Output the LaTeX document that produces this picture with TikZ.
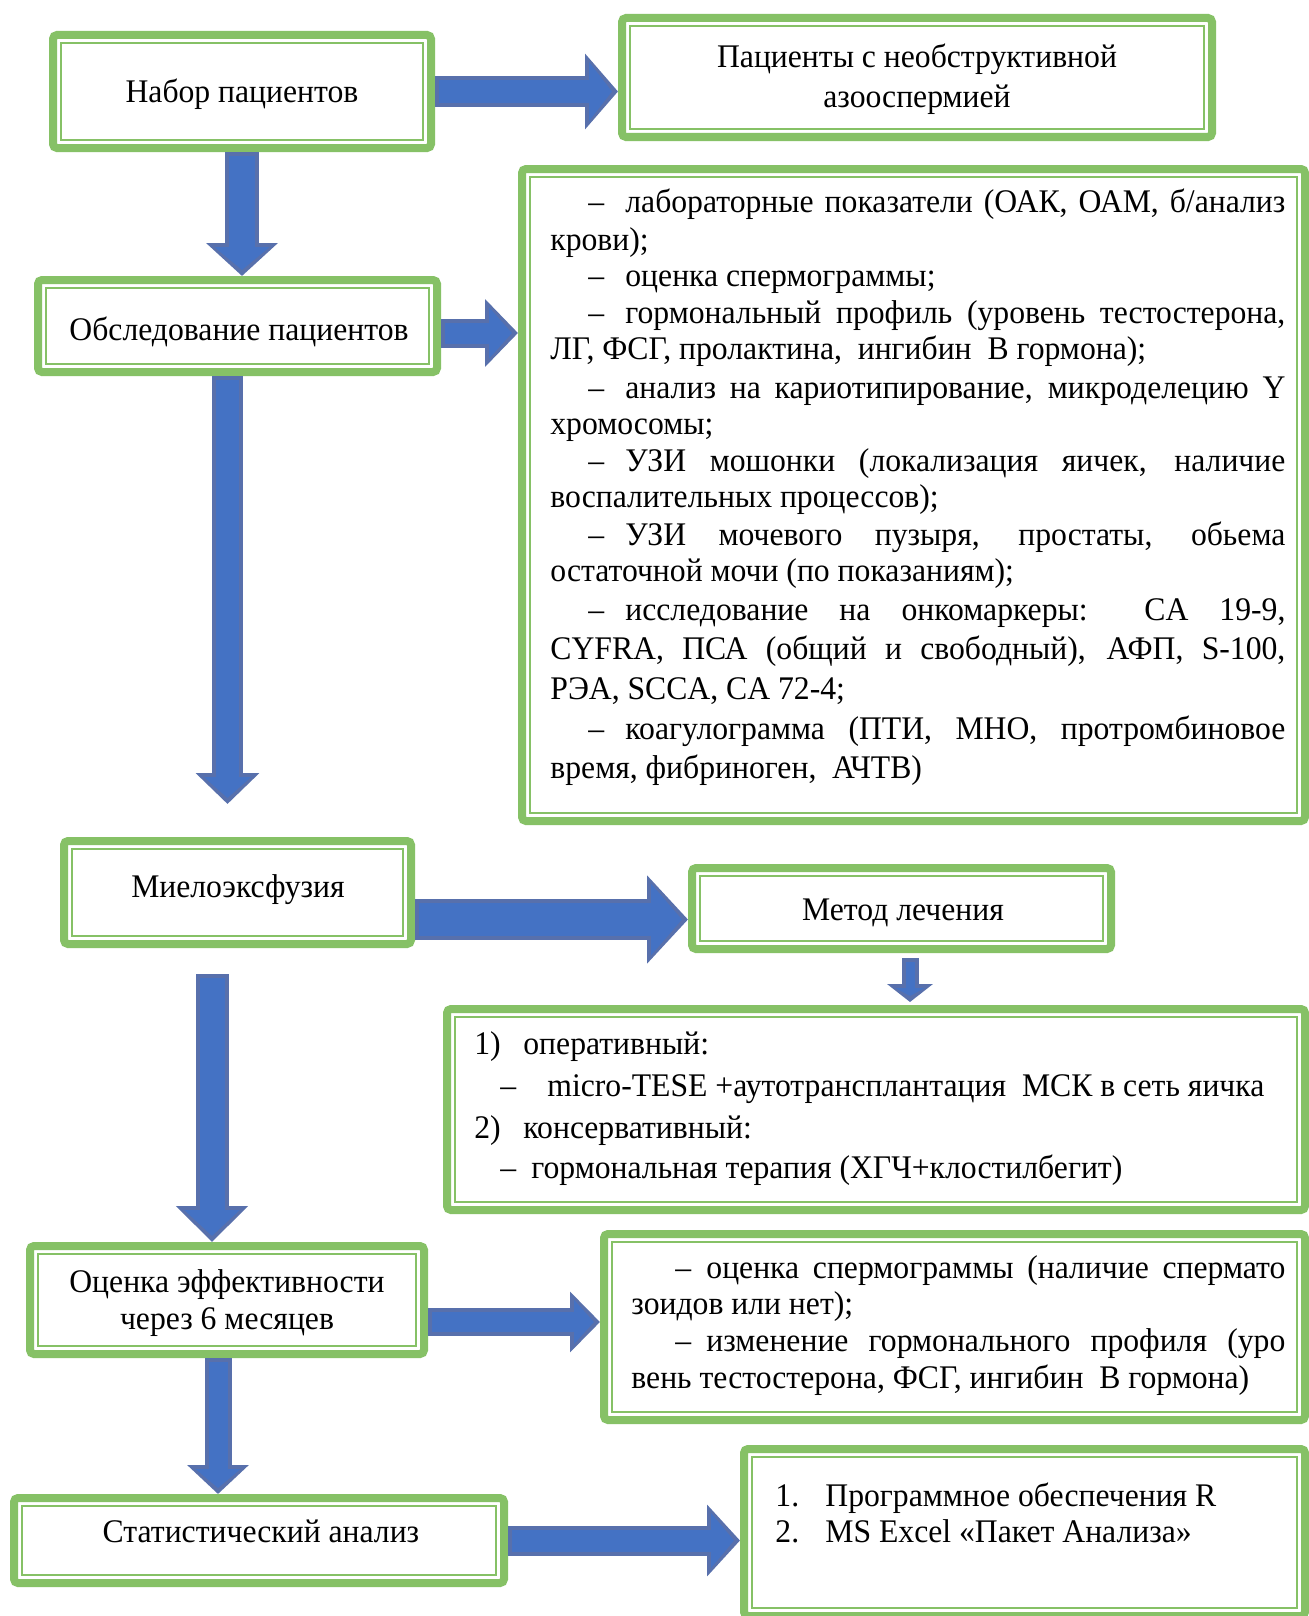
\documentclass[tikz,border=0pt]{standalone}
\usepackage{fontspec}
\setmainfont{Liberation Serif}[FakeStretch=0.96]
\usetikzlibrary{arrows.meta,calc}
\definecolor{boxgreen}{HTML}{86C166}
\definecolor{arrowedge}{HTML}{5870AC}
\definecolor{arrowfill}{HTML}{4472C4}
\tikzset{
 box/.style={draw=boxgreen, line width=4pt, rounded corners=2pt, fill=white, inner sep=0pt},
 thinline/.style={draw=boxgreen, line width=1.25pt},
 txt/.style={inner sep=0pt, anchor=base west, font=\fontsize{16.5pt}{18.5pt}\selectfont},
 ctxt/.style={txt, anchor=base},
}
\newcommand\mkbox[5]{%
 \node[box, minimum width={(#4-#2-8)*0.5pt}, minimum height={(#5-#3-8)*0.5pt}] (#1) at ({(#2+#4)/2},{(#3+#5)/2}) {};}
\newcommand\barrow[5]{%
 \pgfmathsetmacro\bsw{#3*0.5}\pgfmathsetmacro\bhw{#4*0.5}\pgfmathsetmacro\bhl{#5*0.5}%
 \pgfmathsetmacro\isw{#3*0.5-4}\pgfmathsetmacro\ihw{#4*0.5-8}\pgfmathsetmacro\ihl{#5*0.5-5}%
 \draw[arrowedge, line width=\bsw pt, -{Triangle[length=\bhl pt, width=\bhw pt]}] #1 -- #2;
 \draw[arrowfill, line width=\isw pt, shorten >=3pt, shorten <=2pt, -{Triangle[length=\ihl pt, width=\ihw pt]}] #1 -- #2;
}
\begin{document}
\begin{tikzpicture}[x=0.5pt,y=-0.5pt]
\useasboundingbox[fill=white] (0,0) rectangle (1309,1616);
% boxes
\mkbox{b1}{49}{31}{435}{152}
\mkbox{b2}{618}{14}{1216}{141}
\mkbox{b3}{34}{276}{441}{376}
\mkbox{b4}{518}{165}{1309}{825}
\mkbox{b5}{60}{837}{415}{948}
\mkbox{b6}{688}{864}{1115}{953}
\mkbox{b7}{443}{1005}{1309}{1214}
\mkbox{b8}{26}{1242}{428}{1358}
\mkbox{b9}{600}{1230}{1309}{1424}
\mkbox{b10}{10}{1494}{508}{1587}
\mkbox{b11}{740}{1445}{1309}{1620}
\foreach \n in {b1,b2,b3,b4,b5,b6,b7,b8,b9,b10,b11}
 \draw[thinline] ([xshift=6pt,yshift=6pt]\n.south west) rectangle ([xshift=-6pt,yshift=-6pt]\n.north east);
% connectors
\barrow{(b1.east)}{(b1.east -| b2.west)}{31}{74}{33}
\barrow{(b1.south)}{(b1.south |- b3.north)}{34}{70}{33}
\barrow{($(b3.east)+(0,7)$)}{($(b3.east -| b4.west)+(0,7)$)}{29}{66}{33}
\coordinate (e4) at ($(b3.south)+(-10,428)$);
\barrow{(e4 |- b3.south)}{(e4)}{31}{62}{31}
\barrow{($(b5.east)+(0,27)$)}{($(b5.east -| b6.west)+(0,27)$)}{41}{86}{41}
\coordinate (s6) at ($(b6.south)+(8.5,5)$);
\coordinate (e6) at ($(b7.north -| s6)+(0,-3)$);
\barrow{(s6)}{(e6)}{17}{45}{18}
\coordinate (s7) at ($(b5.south)+(-25.5,26)$);
\barrow{(s7)}{(s7 |- b8.north)}{33}{70}{36}
\barrow{($(b8.east)+(0,22)$)}{($(b8.east -| b9.west)+(0,22)$)}{28}{59}{30}
\coordinate (s9) at ($(b8.south)+(-9,0)$);
\barrow{(s9)}{(s9 |- b10.north)}{27}{60}{29}
\barrow{(b10.east)}{(b10.east -| b11.west)}{30}{70}{33}
% texts
\node[ctxt] (t1) at (242,103) {Набор пациентов};
\node[ctxt] (t2a) at (917,68) {Пациенты с необструктивной};
\node[ctxt] (t2b) at (917,108) {азооспермией};
\node[ctxt] (t3) at (239,340) {Обследование пациентов};
% box 4
\node[txt] (d4a) at (588,212) {–};
\node[txt] (t4a) at (625,212) {\makebox[330pt][s]{лабораторные показатели (ОАК, ОАМ, б/анализ}};
\node[txt] (t4b) at (550,250) {крови);};
\node[txt] (d4c) at (588,286) {–};
\node[txt] (t4c) at (625,286) {оценка спермограммы;};
\node[txt] (d4d) at (588,323) {–};
\node[txt] (t4d) at (625,323) {\makebox[330pt][s]{гормональный профиль (уровень тестостерона,}};
\node[txt] (t4e) at (550,359) {ЛГ, ФСГ, пролактина,\ \ ингибин\ \ В гормона);};
\node[txt] (d4f) at (588,398) {–};
\node[txt] (t4f) at (625,398) {\makebox[330pt][s]{анализ на кариотипирование, микроделецию Y}};
\node[txt] (t4g) at (550,434) {хромосомы;};
\node[txt] (d4h) at (588,471) {–};
\node[txt] (t4h) at (625,471) {\makebox[330pt][s]{УЗИ мошонки (локализация яичек, наличие}};
\node[txt] (t4i) at (550,507) {воспалительных процессов);};
\node[txt] (d4j) at (588,545) {–};
\node[txt] (t4j) at (625,545) {\makebox[330pt][s]{УЗИ мочевого пузыря, простаты, обьема}};
\node[txt] (t4k) at (550,581) {остаточной мочи (по показаниям);};
\node[txt] (d4l) at (588,620) {–};
\node[txt] (t4l) at (625,620) {\makebox[330pt][s]{исследование на онкомаркеры: CA 19-9,}};
\node[txt] (t4m) at (550,659) {\makebox[367.5pt][s]{CYFRA, ПСА (общий и свободный), АФП, S-100,}};
\node[txt] (t4n) at (550,699) {РЭА, SCCA, CA 72-4;};
\node[txt] (d4o) at (588,739) {–};
\node[txt] (t4o) at (625,739) {\makebox[330pt][s]{коагулограмма (ПТИ, МНО, протромбиновое}};
\node[txt] (t4p) at (550,778) {время, фибриноген,\ \ АЧТВ)};
% box 5, 6
\node[ctxt] (t5) at (238,897) {Миелоэксфузия};
\node[ctxt] (t6) at (903,920) {Метод лечения};
% box 7
\node[txt] (n7a) at (474,1054) {1)};
\node[txt] (t7a) at (523,1054) {оперативный:};
\node[txt] (d7b) at (500,1096) {–};
\node[txt] (t7b) at (547,1096) {micro-TESE +аутотрансплантация\ \ МСК в сеть яичка};
\node[txt] (n7c) at (474,1138) {2)};
\node[txt] (t7c) at (523,1138) {консервативный:};
\node[txt] (d7d) at (500,1178) {–};
\node[txt] (t7d) at (531,1178) {гормональная терапия (ХГЧ+клостилбегит)};
% box 8
\node[ctxt] (t8a) at (227,1292) {Оценка эффективности};
\node[ctxt] (t8b) at (227,1329) {через 6 месяцев};
% box 9
\node[txt] (d9a) at (675,1278) {–};
\node[txt] (t9a) at (706,1278) {\makebox[289.5pt][s]{оценка спермограммы (наличие спермато}};
\node[txt] (t9b) at (631,1314) {зоидов или нет);};
\node[txt] (d9c) at (675,1351) {–};
\node[txt] (t9c) at (706,1351) {\makebox[289.5pt][s]{изменение гормонального профиля (уро}};
\node[txt] (t9d) at (631,1388) {вень тестостерона, ФСГ, ингибин\ \ В гормона)};
% box 10, 11
\node[ctxt] (t10) at (261,1542) {Статистический анализ};
\node[txt] (n11a) at (775,1506) {1.};
\node[txt] (t11a) at (825,1506) {Программное обеспечения R};
\node[txt] (n11b) at (775,1542) {2.};
\node[txt] (t11b) at (825,1542) {MS Excel «Пакет Анализа»};
\end{tikzpicture}
\end{document}
